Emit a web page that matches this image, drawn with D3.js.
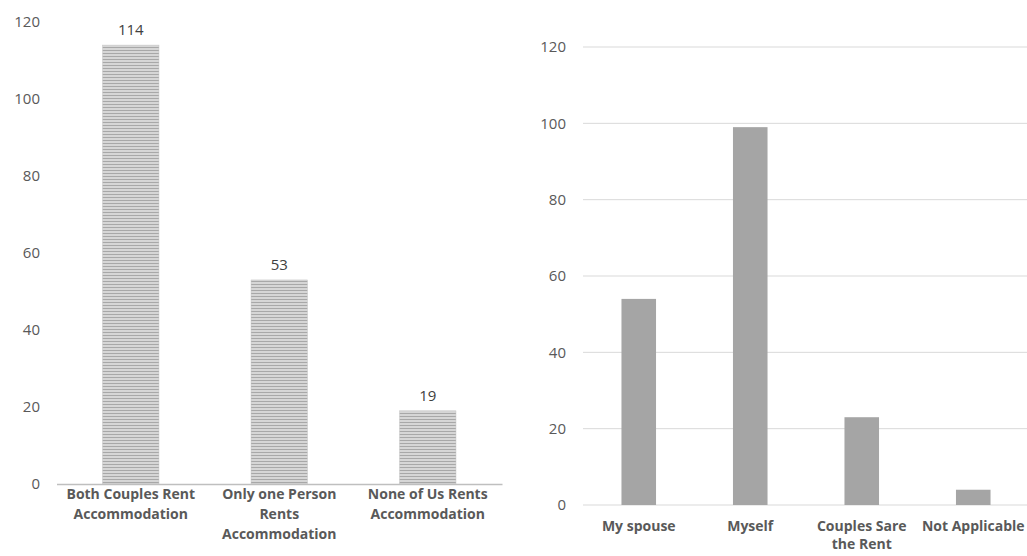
<!DOCTYPE html>
<html>
<head>
<meta charset="utf-8">
<script src="https://cdn.jsdelivr.net/npm/d3@7"></script>
<style>
  html, body { margin: 0; padding: 0; background: #fff; }
  svg { display: block; font-family: "Open Sans", Lato, "Liberation Sans", sans-serif; }
</style>
</head>
<body>
<svg id="chart" width="1027" height="556"></svg>
<script>
// Left panel: who rents accommodation
const rentCategories = [
  "Both Couples Rent\nAccommodation",
  "Only one Person\nRents\nAccommodation",
  "None of Us Rents\nAccommodation"
];
const rentValues = [114, 53, 19];

// Right panel: who pays the rent
const payCategories = ["My spouse", "Myself", "Couples Sare\nthe Rent", "Not Applicable"];
const payValues = [54, 99, 23, 4];

const yTicks = [0, 20, 40, 60, 80, 100, 120];

const svg = d3.select("#chart");
const textColor = "#595959";
const fontFam = "'Open Sans', Lato, 'Liberation Sans', sans-serif";

// Horizontal-stripe fill for the left bars
const defs = svg.append("defs");
const pat = defs.append("pattern")
  .attr("id", "stripes")
  .attr("patternUnits", "userSpaceOnUse")
  .attr("width", 6).attr("height", 3);
pat.append("rect").attr("width", 6).attr("height", 3).attr("fill", "#d6d6d6");
pat.append("rect").attr("y", 2).attr("width", 6).attr("height", 1).attr("fill", "#a8a8a8");

function wrapLabels(sel, lineH) {
  sel.each(function (d) {
    const t = d3.select(this);
    t.text(null);
    d.split("\n").forEach((line, i) => {
      t.append("tspan").attr("x", 0).attr("dy", i === 0 ? "0.71em" : lineH).text(line);
    });
  });
}

// ---------- Left chart ----------
{
  const x = d3.scaleBand().domain(rentCategories).range([56.5, 502]).paddingInner(0.62).paddingOuter(0.31);
  const y = d3.scaleLinear().domain([0, 120]).range([484, 22]);
  const g = svg.append("g");

  // y tick labels (no gridlines)
  const ya = g.append("g").attr("transform", "translate(40,0)")
    .call(d3.axisLeft(y).tickValues(yTicks).tickSize(0).tickPadding(0));
  ya.select(".domain").remove();
  ya.selectAll("text").attr("fill", textColor).style("font-size", "15px")
    .style("font-family", fontFam);

  g.selectAll("rect.bar").data(rentValues).join("rect")
    .attr("class", "bar")
    .attr("x", (d, i) => x(rentCategories[i]))
    .attr("width", x.bandwidth())
    .attr("y", d => y(d))
    .attr("height", d => y(0) - y(d))
    .attr("fill", "url(#stripes)")
    .attr("stroke", "#c4c4c4").attr("stroke-width", 0.5);

  g.selectAll("text.val").data(rentValues).join("text")
    .attr("class", "val")
    .attr("x", (d, i) => x(rentCategories[i]) + x.bandwidth() / 2)
    .attr("y", d => y(d) - 10)
    .attr("text-anchor", "middle")
    .attr("fill", "#404040")
    .style("font-size", "15px")
    .style("font-family", fontFam)
    .text(d => d);

  const xa = g.append("g").attr("transform", "translate(0,484)")
    .call(d3.axisBottom(x).tickSize(0).tickPadding(6));
  xa.select(".domain").attr("stroke", "#bfbfbf").attr("stroke-width", 1.3);
  xa.selectAll("text")
    .attr("fill", textColor)
    .style("font-size", "14px").style("font-weight", "bold")
    .style("font-family", fontFam)
    .attr("y", 5)
    .call(wrapLabels, "1.43em");
}

// ---------- Right chart ----------
{
  const x = d3.scaleBand().domain(payCategories).range([583, 1029]).paddingInner(0.69).paddingOuter(0.345);
  const y = d3.scaleLinear().domain([0, 120]).range([505, 47]);
  const g = svg.append("g");

  g.append("g").selectAll("line").data(yTicks).join("line")
    .attr("x1", 583).attr("x2", 1027)
    .attr("y1", d => y(d)).attr("y2", d => y(d))
    .attr("stroke", "#d9d9d9").attr("stroke-width", 1);

  const ya = g.append("g").attr("transform", "translate(566,0)")
    .call(d3.axisLeft(y).tickValues(yTicks).tickSize(0).tickPadding(0));
  ya.select(".domain").remove();
  ya.selectAll("text").attr("fill", textColor).style("font-size", "15px")
    .style("font-family", fontFam);

  g.selectAll("rect.bar").data(payValues).join("rect")
    .attr("class", "bar")
    .attr("x", (d, i) => x(payCategories[i]))
    .attr("width", x.bandwidth())
    .attr("y", d => y(d))
    .attr("height", d => y(0) - y(d))
    .attr("fill", "#a5a5a5");

  const xa = g.append("g").attr("transform", "translate(0,505)")
    .call(d3.axisBottom(x).tickSize(0).tickPadding(6));
  xa.select(".domain").remove();
  xa.selectAll("text")
    .attr("fill", textColor)
    .style("font-size", "14px").style("font-weight", "bold")
    .style("font-family", fontFam)
    .attr("y", 16)
    .call(wrapLabels, "1.3em");
}
</script>
</body>
</html>
